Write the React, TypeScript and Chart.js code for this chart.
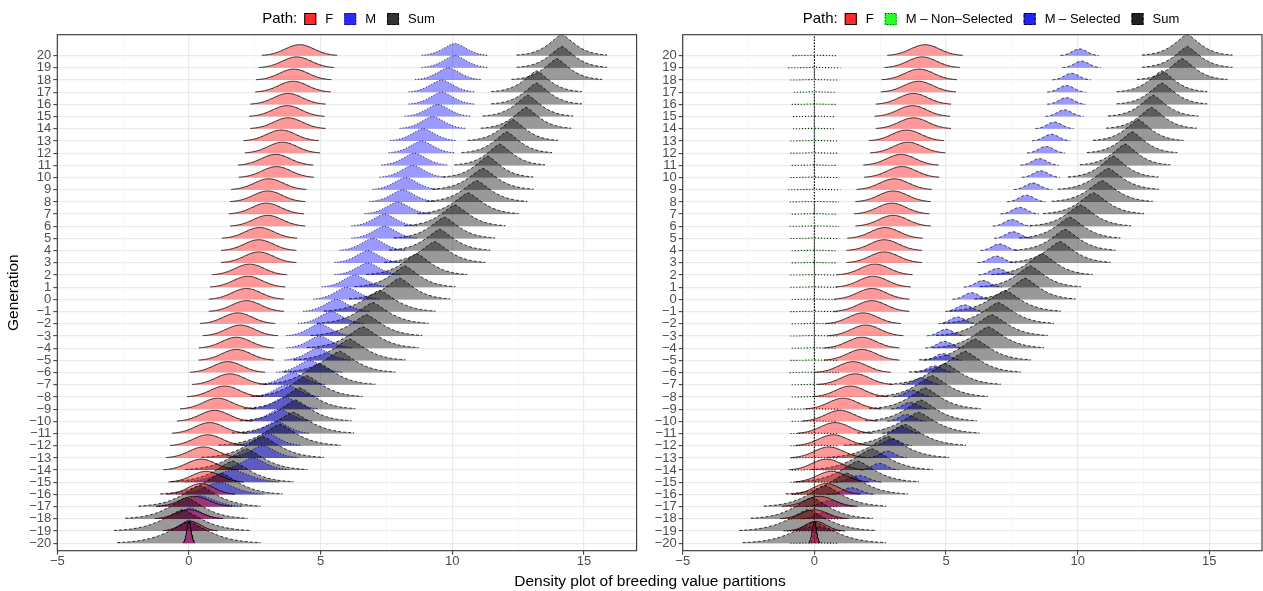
import React, { useEffect, useRef } from "react";
import { Chart, registerables } from "chart.js";

Chart.register(...registerables);

const FONT = '"Liberation Sans", Arial, Helvetica, sans-serif';

// Generations (rows), bottom to top
const generations = [-20, -19, -18, -17, -16, -15, -14, -13, -12, -11, -10, -9, -8, -7, -6, -5, -4, -3, -2, -1, 0, 1, 2, 3, 4, 5, 6, 7, 8, 9, 10, 11, 12, 13, 14, 15, 16, 17, 18, 19, 20];

// x axis ticks (major every 5, minor every 2.5)
const xTicks = [-5, -2.5, 0, 2.5, 5, 7.5, 10, 12.5, 15];

// Path F
const fMean = [0.0, 0.05, 0.0, 0.2, 0.45, 0.65, 0.46, 0.55, 0.71, 0.78, 0.97, 1.09, 1.36, 1.55, 1.47, 1.8, 1.8, 1.95, 1.85, 2.18, 2.18, 2.23, 2.3, 2.65, 2.65, 2.68, 2.99, 2.94, 2.99, 3.03, 3.32, 3.29, 3.55, 3.5, 3.76, 3.72, 3.76, 3.95, 3.98, 4.09, 4.2];
const fSd = [0.08, 0.4, 0.5, 0.55, 0.5, 0.55, 0.55, 0.55, 0.55, 0.55, 0.55, 0.55, 0.55, 0.55, 0.55, 0.55, 0.55, 0.55, 0.55, 0.55, 0.55, 0.55, 0.55, 0.55, 0.55, 0.55, 0.55, 0.55, 0.55, 0.55, 0.55, 0.55, 0.55, 0.55, 0.55, 0.55, 0.55, 0.55, 0.55, 0.55, 0.55];
const fHeight = [1.8, 0.8, 0.75, 0.85, 0.9, 0.9, 0.9, 0.9, 0.9, 0.9, 0.9, 0.9, 0.9, 0.9, 0.9, 0.9, 0.9, 0.9, 0.9, 0.9, 0.9, 0.9, 0.9, 0.9, 0.9, 0.9, 0.9, 0.9, 0.9, 0.9, 0.9, 0.9, 0.9, 0.9, 0.9, 0.9, 0.9, 0.9, 0.9, 0.9, 0.9];

// Path M (all)
const mMean = [0.0, 0.0, 0.05, 0.4, 1.16, 1.65, 2.43, 2.8, 2.99, 3.32, 3.44, 3.65, 3.7, 3.94, 4.58, 4.89, 4.96, 4.96, 5.4, 5.6, 5.99, 6.3, 6.79, 6.79, 6.98, 7.43, 7.43, 7.93, 8.12, 8.23, 8.5, 8.57, 8.84, 8.9, 9.26, 9.45, 9.6, 9.6, 9.85, 10.1, 10.1];
const mSd = [0.08, 0.3, 0.4, 0.55, 0.55, 0.6, 0.45, 0.45, 0.42, 0.42, 0.42, 0.42, 0.42, 0.42, 0.42, 0.42, 0.42, 0.42, 0.42, 0.42, 0.42, 0.42, 0.42, 0.42, 0.42, 0.42, 0.42, 0.42, 0.42, 0.42, 0.42, 0.42, 0.42, 0.42, 0.42, 0.42, 0.42, 0.42, 0.42, 0.42, 0.42];
const mHeight = [1.8, 0.9, 0.9, 0.9, 1.0, 1.0, 1.0, 1.0, 1.0, 1.0, 1.0, 1.0, 1.0, 1.0, 1.0, 1.0, 1.0, 1.0, 1.0, 1.0, 1.0, 1.0, 1.0, 1.0, 1.0, 1.0, 1.0, 1.0, 1.0, 1.0, 1.0, 1.0, 1.0, 1.0, 1.0, 1.0, 1.0, 1.0, 1.0, 1.0, 1.0];

// Path Sum (peaked shape: scale parameter per generation)
const sumMean = [0.0, -0.25, -0.1, 0.4, 1.23, 1.65, 2.18, 2.8, 3.44, 3.95, 4.05, 4.2, 4.47, 4.96, 5.72, 6.1, 6.6, 6.74, 6.98, 7.24, 8.0, 8.2, 8.65, 9.33, 9.52, 9.7, 10.1, 10.6, 10.93, 11.16, 11.35, 11.8, 12.07, 12.3, 12.8, 12.87, 13.2, 13.2, 13.97, 14.16, 14.16];
const sumSd = [0.68, 0.65, 0.58, 0.58, 0.58, 0.58, 0.58, 0.58, 0.58, 0.58, 0.53, 0.53, 0.53, 0.53, 0.53, 0.53, 0.53, 0.53, 0.53, 0.53, 0.48, 0.48, 0.48, 0.48, 0.48, 0.48, 0.48, 0.48, 0.48, 0.48, 0.43, 0.43, 0.43, 0.43, 0.43, 0.43, 0.43, 0.43, 0.43, 0.43, 0.43];
const sumHeight = [1.75, 1.75, 1.75, 1.75, 1.75, 1.75, 1.75, 1.75, 1.75, 1.75, 1.75, 1.75, 1.75, 1.75, 1.75, 1.75, 1.75, 1.75, 1.75, 1.75, 1.75, 1.75, 1.75, 1.75, 1.75, 1.75, 1.75, 1.75, 1.75, 1.75, 1.75, 1.75, 1.75, 1.75, 1.75, 1.75, 1.75, 1.75, 1.75, 1.75, 1.75];

// Path M - Selected
const mSelMean = [0.0, 0.0, 0.3, 0.6, 1.4, 1.7, 2.47, 2.77, 2.97, 3.3, 3.5, 3.65, 3.73, 4.07, 4.56, 4.88, 4.94, 5.0, 5.44, 5.7, 5.97, 6.4, 6.96, 6.92, 7.03, 7.55, 7.5, 7.8, 8.05, 8.3, 8.6, 8.55, 8.8, 9.0, 9.12, 9.5, 9.57, 9.57, 9.77, 10.15, 10.07];
const mSelSd = [0.06, 0.45, 0.3, 0.35, 0.35, 0.35, 0.28, 0.28, 0.28, 0.28, 0.28, 0.28, 0.28, 0.28, 0.28, 0.28, 0.28, 0.28, 0.28, 0.28, 0.28, 0.28, 0.28, 0.28, 0.28, 0.28, 0.28, 0.28, 0.28, 0.28, 0.28, 0.28, 0.28, 0.28, 0.28, 0.28, 0.28, 0.28, 0.28, 0.28, 0.28];
const mSelHeight = [1.5, 0.35, 0.5, 0.5, 0.55, 0.55, 0.55, 0.55, 0.55, 0.55, 0.55, 0.55, 0.55, 0.55, 0.55, 0.55, 0.55, 0.55, 0.55, 0.55, 0.55, 0.55, 0.55, 0.55, 0.55, 0.55, 0.55, 0.55, 0.55, 0.55, 0.55, 0.55, 0.55, 0.55, 0.55, 0.55, 0.55, 0.55, 0.55, 0.55, 0.55];

// Path M - Non-Selected (flat tails around 0 plus a tall spike at 0)
const mNonSelMean = [0, 0, 0, 0, 0, 0, 0, 0, 0, 0, 0, 0, 0, 0, 0, 0, 0, 0, 0, 0, 0, 0, 0, 0, 0, 0, 0, 0, 0, 0, 0, 0, 0, 0, 0, 0, 0, 0, 0, 0, 0];
const mNonSelSd = [0.35, 0.4, 0.38, 0.35, 0.33, 0.35, 0.33, 0.35, 0.35, 0.35, 0.33, 0.38, 0.33, 0.33, 0.36, 0.35, 0.33, 0.35, 0.33, 0.35, 0.33, 0.35, 0.35, 0.33, 0.33, 0.35, 0.36, 0.33, 0.36, 0.38, 0.35, 0.33, 0.35, 0.35, 0.31, 0.31, 0.33, 0.3, 0.35, 0.38, 0.32];
const mNonSelHeight = [0.04, 0.04, 0.04, 0.04, 0.04, 0.04, 0.04, 0.04, 0.04, 0.04, 0.04, 0.04, 0.04, 0.04, 0.04, 0.04, 0.04, 0.04, 0.04, 0.04, 0.04, 0.04, 0.04, 0.04, 0.04, 0.04, 0.04, 0.04, 0.04, 0.04, 0.04, 0.04, 0.04, 0.04, 0.04, 0.04, 0.04, 0.04, 0.04, 0.04, 0.04];
const mNonSelSpike = [1, 1, 1, 1, 1, 1, 1, 1, 1, 1, 1, 1, 1, 1, 1, 1, 1, 1, 1, 1, 1, 1, 1, 1, 1, 1, 1, 1, 1, 1, 1, 1, 1, 1, 1, 1, 1, 1, 1, 1, 2];

type PathDef = {
  label: string;
  mean: number[];
  sd: number[];
  height: number[];
  spike?: number[];
  fill: string;
  key: string;
  dash: number[];
  lw: number;
  power: number;
  tail: number;
};

function ridge(g: number, mean: number, sd: number, h: number, power: number, tail: number, spike?: number) {
  let pts: { x: number; y: number }[] = [];
  const lo = mean - tail * sd;
  const hi = mean + tail * sd;
  const n = 90;
  for (let i = 0; i <= n; i++) {
    const x = lo + ((hi - lo) * i) / n;
    const z = Math.abs((x - mean) / sd);
    pts.push({ x, y: g + h * Math.exp(-0.5 * Math.pow(z, power)) });
  }
  if (spike) {
    pts = pts.filter((p) => Math.abs(p.x - mean) > 0.004);
    pts.push({ x: mean - 0.003, y: g + h });
    pts.push({ x: mean, y: g + spike });
    pts.push({ x: mean + 0.003, y: g + h });
    pts.sort((a, b) => a.x - b.x);
  }
  return pts;
}

const pathF: PathDef = { label: "F", mean: fMean, sd: fSd, height: fHeight, fill: "rgba(255,0,0,0.4)", key: "#ff2a2a", dash: [], lw: 0.8, power: 2, tail: 2.6 };
const pathM: PathDef = { label: "M", mean: mMean, sd: mSd, height: mHeight, fill: "rgba(0,0,255,0.4)", key: "#2a2aff", dash: [1, 2], lw: 0.9, power: 1.7, tail: 3.0 };
const pathSum: PathDef = { label: "Sum", mean: sumMean, sd: sumSd, height: sumHeight, fill: "rgba(0,0,0,0.4)", key: "#333333", dash: [3, 2], lw: 0.8, power: 1.4, tail: 4.0 };
const pathNonSel: PathDef = { label: "M \u2013 Non\u2013Selected", mean: mNonSelMean, sd: mNonSelSd, height: mNonSelHeight, spike: mNonSelSpike, fill: "rgba(0,255,0,0.4)", key: "#2aff2a", dash: [1, 2], lw: 1.1, power: 2, tail: 2.6 };
const pathSel: PathDef = { label: "M \u2013 Selected", mean: mSelMean, sd: mSelSd, height: mSelHeight, fill: "rgba(0,0,255,0.4)", key: "#2222ff", dash: [3, 2], lw: 0.8, power: 2, tail: 2.6 };
const pathSum2: PathDef = { ...pathSum, key: "#222222" };

function fmt(v: number) {
  return v < 0 ? "\u2212" + Math.abs(v) : String(v);
}

const panelBorder = {
  id: "panelBorder",
  afterDatasetsDraw(chart: any) {
    const { ctx, chartArea } = chart;
    ctx.save();
    ctx.strokeStyle = "#333333";
    ctx.lineWidth = 1.1;
    ctx.setLineDash([]);
    ctx.strokeRect(chartArea.left, chartArea.top, chartArea.right - chartArea.left, chartArea.bottom - chartArea.top);
    ctx.restore();
  },
};

const pathLegend = {
  id: "pathLegend",
  afterDraw(chart: any, _args: any, opts: any) {
    const ctx = chart.ctx as CanvasRenderingContext2D;
    const items: PathDef[] = opts.items;
    ctx.save();
    const y = 19;
    ctx.textBaseline = "middle";
    ctx.font = `15px ${FONT}`;
    const titleW = ctx.measureText("Path:").width;
    ctx.font = `13px ${FONT}`;
    const widths = items.map((it) => ctx.measureText(it.label).width);
    const box = 12;
    const gapTitle = 7;
    const gapBoxText = 9;
    const gapItem = 11;
    let total = titleW + gapTitle;
    widths.forEach((w, i) => {
      total += box + gapBoxText + w + (i < widths.length - 1 ? gapItem : 0);
    });
    let x = opts.cx - total / 2;
    ctx.fillStyle = "#000";
    ctx.font = `15px ${FONT}`;
    ctx.fillText("Path:", x, y);
    x += titleW + gapTitle;
    ctx.font = `13px ${FONT}`;
    items.forEach((it, i) => {
      ctx.fillStyle = it.key;
      ctx.fillRect(x, y - 6, box, box);
      ctx.strokeStyle = "#000";
      ctx.lineWidth = 1;
      ctx.setLineDash(it.dash);
      ctx.strokeRect(x + 0.5, y - 5.5, box - 1, box - 1);
      ctx.setLineDash([]);
      x += box + gapBoxText;
      ctx.fillStyle = "#000";
      ctx.fillText(it.label, x, y + 0.5);
      x += widths[i] + gapItem;
    });
    ctx.restore();
  },
};

function buildDatasets(paths: PathDef[]) {
  const ds: any[] = [];
  generations.forEach((g, i) => {
    paths.forEach((p) => {
      ds.push({
        label: p.label + " " + g,
        data: ridge(g, p.mean[i], p.sd[i], p.height[i], p.power, p.tail, p.spike ? p.spike[i] : undefined),
        borderColor: "#000000",
        borderWidth: p.lw,
        borderDash: p.dash,
        backgroundColor: p.fill,
        fill: { value: g },
        pointRadius: 0,
        tension: 0,
      });
    });
  });
  return ds;
}

function makeConfig(paths: PathDef[], opts: { yWidth: number; padRight: number; legendCx: number; yTitle: boolean }) {
  return {
    type: "line" as const,
    data: { datasets: buildDatasets(paths) },
    options: {
      animation: false as const,
      responsive: false,
      events: [] as any[],
      layout: { padding: { left: 0, right: opts.padRight, top: 34.7, bottom: 0 } },
      plugins: {
        legend: { display: false },
        tooltip: { enabled: false },
        pathLegend: { cx: opts.legendCx, items: paths },
      },
      scales: {
        x: {
          type: "linear" as const,
          min: -5,
          max: 17,
          afterBuildTicks: (s: any) => {
            s.ticks = xTicks.map((v) => ({ value: v }));
          },
          afterFit: (s: any) => {
            s.height = 40.3;
          },
          border: { display: false },
          grid: {
            color: (c: any) => (c.tick && c.tick.value % 5 === 0 ? "#ebebeb" : "#f1f1f1"),
            lineWidth: (c: any) => (c.tick && c.tick.value % 5 === 0 ? 1.2 : 0.6),
            tickColor: (c: any) => (c.tick && c.tick.value % 5 === 0 ? "#333333" : "rgba(0,0,0,0)"),
            tickLength: 4,
            tickWidth: 1,
          },
          ticks: {
            autoSkip: false,
            maxRotation: 0,
            padding: -1,
            color: "#4d4d4d",
            font: { family: FONT, size: 13 },
            callback: (v: any) => (Number(v) % 5 === 0 ? fmt(Number(v)) : ""),
          },
        },
        y: {
          type: "linear" as const,
          min: -20.61,
          max: 21.72,
          afterBuildTicks: (s: any) => {
            s.ticks = generations.map((v) => ({ value: v }));
          },
          afterFit: (s: any) => {
            s.width = opts.yWidth;
          },
          border: { display: false },
          title: {
            display: opts.yTitle,
            text: "Generation",
            color: "#000",
            font: { family: FONT, size: 15.5 },
            padding: { top: 4, bottom: 0 },
          },
          grid: {
            color: "#ebebeb",
            lineWidth: 1.3,
            tickColor: "#333333",
            tickLength: 4,
            tickWidth: 1,
          },
          ticks: {
            autoSkip: false,
            padding: 2,
            color: "#4d4d4d",
            font: { family: FONT, size: 13 },
            callback: (v: any) => fmt(Number(v)),
          },
        },
      },
    },
    plugins: [panelBorder, pathLegend],
  };
}

export default function App() {
  const leftRef = useRef<HTMLCanvasElement>(null);
  const rightRef = useRef<HTMLCanvasElement>(null);

  useEffect(() => {
    const left = new Chart(
      leftRef.current as HTMLCanvasElement,
      makeConfig([pathF, pathM, pathSum], { yWidth: 57.3, padRight: 3.4, legendCx: 348.5, yTitle: true }) as any
    );
    const right = new Chart(
      rightRef.current as HTMLCanvasElement,
      makeConfig([pathF, pathNonSel, pathSel, pathSum2], { yWidth: 42.7, padRight: 1, legendCx: 351, yTitle: false }) as any
    );
    return () => {
      left.destroy();
      right.destroy();
    };
  }, []);

  return (
    <div style={{ position: "absolute", left: 0, top: 0, width: 1263, height: 591, background: "#ffffff", overflow: "hidden" }}>
      <canvas ref={leftRef} width={640} height={591} style={{ position: "absolute", left: 0, top: 0 }} />
      <canvas ref={rightRef} width={623} height={591} style={{ position: "absolute", left: 640, top: 0 }} />
      <div
        style={{
          position: "absolute",
          left: 0,
          top: 571,
          width: 1300,
          textAlign: "center",
          font: `15.5px ${FONT}`,
          lineHeight: "20px",
          color: "#000",
        }}
      >
        Density plot of breeding value partitions
      </div>
    </div>
  );
}
